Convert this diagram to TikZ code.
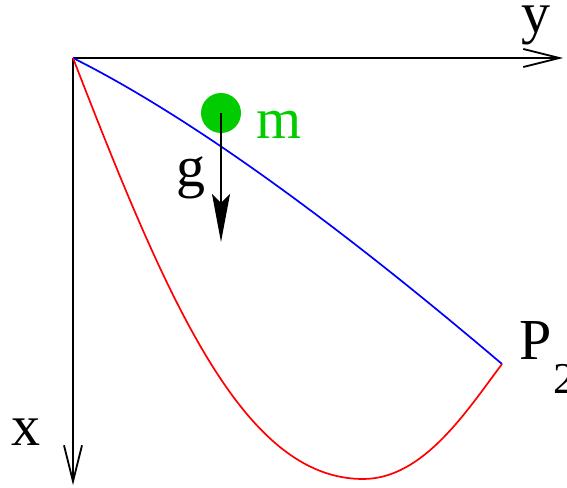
\documentclass[tikz,border=0pt]{standalone}
\usepackage{fontspec}
\setmainfont{Liberation Serif}
\usepackage{xcolor}
\usepackage{tikz}
\usetikzlibrary{arrows.meta, positioning, calc}

\definecolor{massgreen}{RGB}{0,204,0}

\begin{document}
\begin{tikzpicture}[x=1pt, y=-1pt,
    lbl/.style={inner sep=0pt, font=\fontsize{58}{60}\selectfont},
    axis/.style={->, >={Straight Barb[length=36pt, width=18pt, line width=1.8pt]}, line width=1.8pt},
    grav/.style={->, >={Stealth[length=48pt, width=18pt, inset=9pt]}, line width=1.5pt},
    path/.style={line width=1.7pt}
  ]
  \useasboundingbox (0,0) rectangle (567,487);

  % --- AXES ---
  \coordinate (O) at (73,58);
  \coordinate (Yend) at (563,58);
  \coordinate (Xend) at (73,485);
  \draw[axis] (O) -- (Yend);
  \draw[axis] (O) -- (Xend);
  \node[lbl, anchor=base] (ylbl) at (535.5,33) {y};
  \node[lbl, anchor=base] (xlbl) at (26,445) {x};

  % --- CURVES ---
  \coordinate (P2) at (502,364);
  \coordinate (Bt) at (363,479);
  \draw[path, blue] (O) .. controls (184.7,113.9) and (327.7,215.9) .. (P2);
  \draw[path, red] (O) .. controls (166.9,300.3) and (243,479) .. (Bt)
    .. controls (423,479) and (466,412) .. (P2);
  \node[lbl, anchor=base west] (plbl) at (519,359) {P};
  \node[inner sep=0pt, font=\fontsize{44}{46}\selectfont, anchor=base west] (psub) at (553,393) {2};

  % --- MASS AND GRAVITY ---
  \node[circle, fill=massgreen, minimum size=40pt, inner sep=0pt] (M) at (221,113) {};
  \node[lbl, text=massgreen, anchor=base] (mlbl) at (279.5,138) {m};
  \coordinate (gTip) at (221,242);
  \draw[grav] (M.center) -- (gTip);
  \node[lbl, anchor=base] (glbl) at (191,186) {g};
\end{tikzpicture}
\end{document}
